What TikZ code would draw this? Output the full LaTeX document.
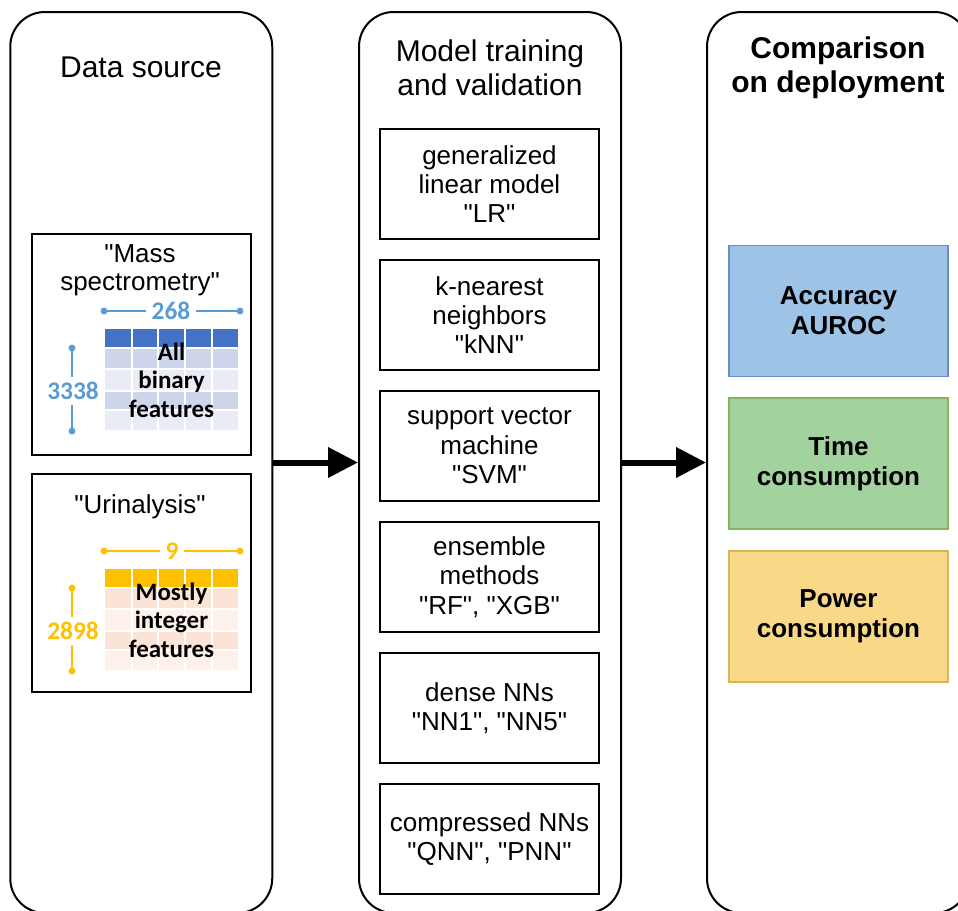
\documentclass[tikz,border=0pt]{standalone}
\usepackage{fontspec}
\setmainfont{Liberation Sans}[Ligatures=TeXOff]
\newfontfamily\calib{Carlito}[Ligatures=TeXOff]
\usetikzlibrary{arrows.meta}
\definecolor{msblue}{HTML}{5B9BD5}
\definecolor{mshead}{HTML}{4472C4}
\definecolor{msdark}{HTML}{CFD5EA}
\definecolor{mslight}{HTML}{E9EBF5}
\definecolor{urorange}{HTML}{FFC000}
\definecolor{urdark}{HTML}{FBE4D5}
\definecolor{urlight}{HTML}{FDF1EA}
\definecolor{accfill}{HTML}{9DC3E6}
\definecolor{accdraw}{HTML}{6C8EBF}
\definecolor{timefill}{HTML}{A2D39E}
\definecolor{timedraw}{HTML}{82B366}
\definecolor{powfill}{HTML}{F9D887}
\definecolor{powdraw}{HTML}{D6B656}
\begin{document}
\begin{tikzpicture}[x=0.75pt,y=-0.75pt,
  colbox/.style={draw, line width=1.5pt, rounded corners=26pt, minimum width=196.5pt, minimum height=675.75pt, inner sep=0pt},
  coltitle/.style={align=center, font=\fontsize{22.5}{25.5}\selectfont},
  mbox/.style={draw, line width=1.3pt, minimum width=164.25pt, minimum height=82.5pt, align=center, inner sep=0pt, font=\fontsize{19.5}{22}\selectfont},
  lbox/.style={draw, line width=1.6pt, minimum width=164.25pt, inner sep=0pt},
  lbl/.style={align=center, font=\fontsize{19.5}{21}\selectfont},
  tbltext/.style={align=center, font=\calib\bfseries\fontsize{18.75}{21.5}\selectfont},
  num/.style={font=\calib\bfseries\fontsize{19}{21}\selectfont, inner sep=4pt},
  dim/.style={line width=1.5pt},
  dimdot/.style={radius=2.6pt},
  rbox/.style={draw, line width=1.3pt, minimum width=164.25pt, minimum height=98.25pt, align=center, font=\bfseries\fontsize{19.5}{22.5}\selectfont},
  bigarrow/.style={line width=4.5pt, -{Triangle[length=22.5pt,width=22pt]}}
]
\useasboundingbox (0,0) rectangle (958,911);
\clip (0,0) rectangle (958,911);

% columns
\node[colbox] (col1) at (141.25,462.5) {};
\node[colbox] (col2) at (490,462.5) {};
\node[colbox] (col3) at (838,462.5) {};

% titles
\node[coltitle] (t1) at (141,67) {Data source};
\node[coltitle] (t2) at (490,68) {Model training\\and validation};
\node[coltitle, font=\bfseries\fontsize{22.5}{25.5}\selectfont] (t3) at (838,68) {Comparison\\on deployment};

% middle boxes
\node[mbox] (m1) at (489.5,184) {generalized\\linear model\\"LR"};
\node[mbox] (m2) at (489.5,315) {k-nearest\\neighbors\\"kNN"};
\node[mbox] (m3) at (489.5,446) {support vector\\machine\\"SVM"};
\node[mbox] (m4) at (489.5,577) {ensemble\\methods\\"RF", "XGB"};
\node[mbox] (m5) at (489.5,708) {dense NNs\\"NN1", "NN5"};
\node[mbox] (m6) at (489.5,839) {compressed NNs\\"QNN", "PNN"};

% left boxes
\node[lbox, minimum height=165.75pt] (ms) at (141.5,344.5) {};
\node[lbox, minimum height=163.5pt] (ur) at (141.5,583) {};
\node[lbl] (mstitle) at (140,270) {"Mass\\spectrometry"};
\node[lbl] (urtitle) at (140,507) {"Urinalysis"};

% mass spectrometry table
\fill[mshead] (105,329) rectangle (238,348);
\fill[msdark] (105,348) rectangle (238,369);
\fill[mslight] (105,369) rectangle (238,391);
\fill[msdark] (105,391) rectangle (238,410);
\fill[mslight] (105,410) rectangle (238,430);
\foreach \x in {132,158,185,212} \draw[white, line width=0.8pt] (\x,329) -- (\x,430);
\foreach \y in {348,369,391,410} \draw[white, line width=0.8pt] (105,\y) -- (238,\y);
\node[tbltext] (mstext) at (171.5,380) {All\\binary\\features};

% urinalysis table
\fill[urorange] (105,569) rectangle (238,588);
\fill[urdark] (105,588) rectangle (238,609);
\fill[urlight] (105,609) rectangle (238,631);
\fill[urdark] (105,631) rectangle (238,650);
\fill[urlight] (105,650) rectangle (238,670);
\foreach \x in {132,158,185,212} \draw[white, line width=0.8pt] (\x,569) -- (\x,670);
\foreach \y in {588,609,631,650} \draw[white, line width=0.8pt] (105,\y) -- (238,\y);
\node[tbltext] (urtext) at (171.5,620) {Mostly\\integer\\features};

% dimensions mass spectrometry
\node[num, text=msblue] (n268) at (171,311) {268};
\coordinate (h1) at (104,311);
\coordinate (h2) at (240,311);
\draw[dim, msblue] (h1) -- (n268.west);
\draw[dim, msblue] (n268.east) -- (h2);
\fill[msblue] (h1) circle[dimdot];
\fill[msblue] (h2) circle[dimdot];
\node[num, text=msblue] (n3338) at (73,391) {3338};
\coordinate (v1) at (72,348);
\coordinate (v2) at (72,431);
\draw[dim, msblue] (v1) -- (v1 |- n3338.north);
\draw[dim, msblue] (v2 |- n3338.south) -- (v2);
\fill[msblue] (v1) circle[dimdot];
\fill[msblue] (v2) circle[dimdot];

% dimensions urinalysis
\node[num, text=urorange] (n9) at (172,551) {9};
\coordinate (h3) at (104,551);
\coordinate (h4) at (240,551);
\draw[dim, urorange] (h3) -- (n9.west);
\draw[dim, urorange] (n9.east) -- (h4);
\fill[urorange] (h3) circle[dimdot];
\fill[urorange] (h4) circle[dimdot];
\node[num, text=urorange] (n2898) at (73,631) {2898};
\coordinate (v3) at (72,588);
\coordinate (v4) at (72,671);
\draw[dim, urorange] (v3) -- (v3 |- n2898.north);
\draw[dim, urorange] (v4 |- n2898.south) -- (v4);
\fill[urorange] (v3) circle[dimdot];
\fill[urorange] (v4) circle[dimdot];

% right boxes
\node[rbox, fill=accfill, draw=accdraw] (acc) at (838.5,311) {Accuracy\\AUROC};
\node[rbox, fill=timefill, draw=timedraw] (time) at (838.5,463.5) {Time\\consumption};
\node[rbox, fill=powfill, draw=powdraw] (pow) at (838.5,616.5) {Power\\consumption};

% arrows
\draw[bigarrow] (col1.east) -- (col2.west);
\draw[bigarrow] (col2.east) -- (col3.west);
\end{tikzpicture}
\end{document}
